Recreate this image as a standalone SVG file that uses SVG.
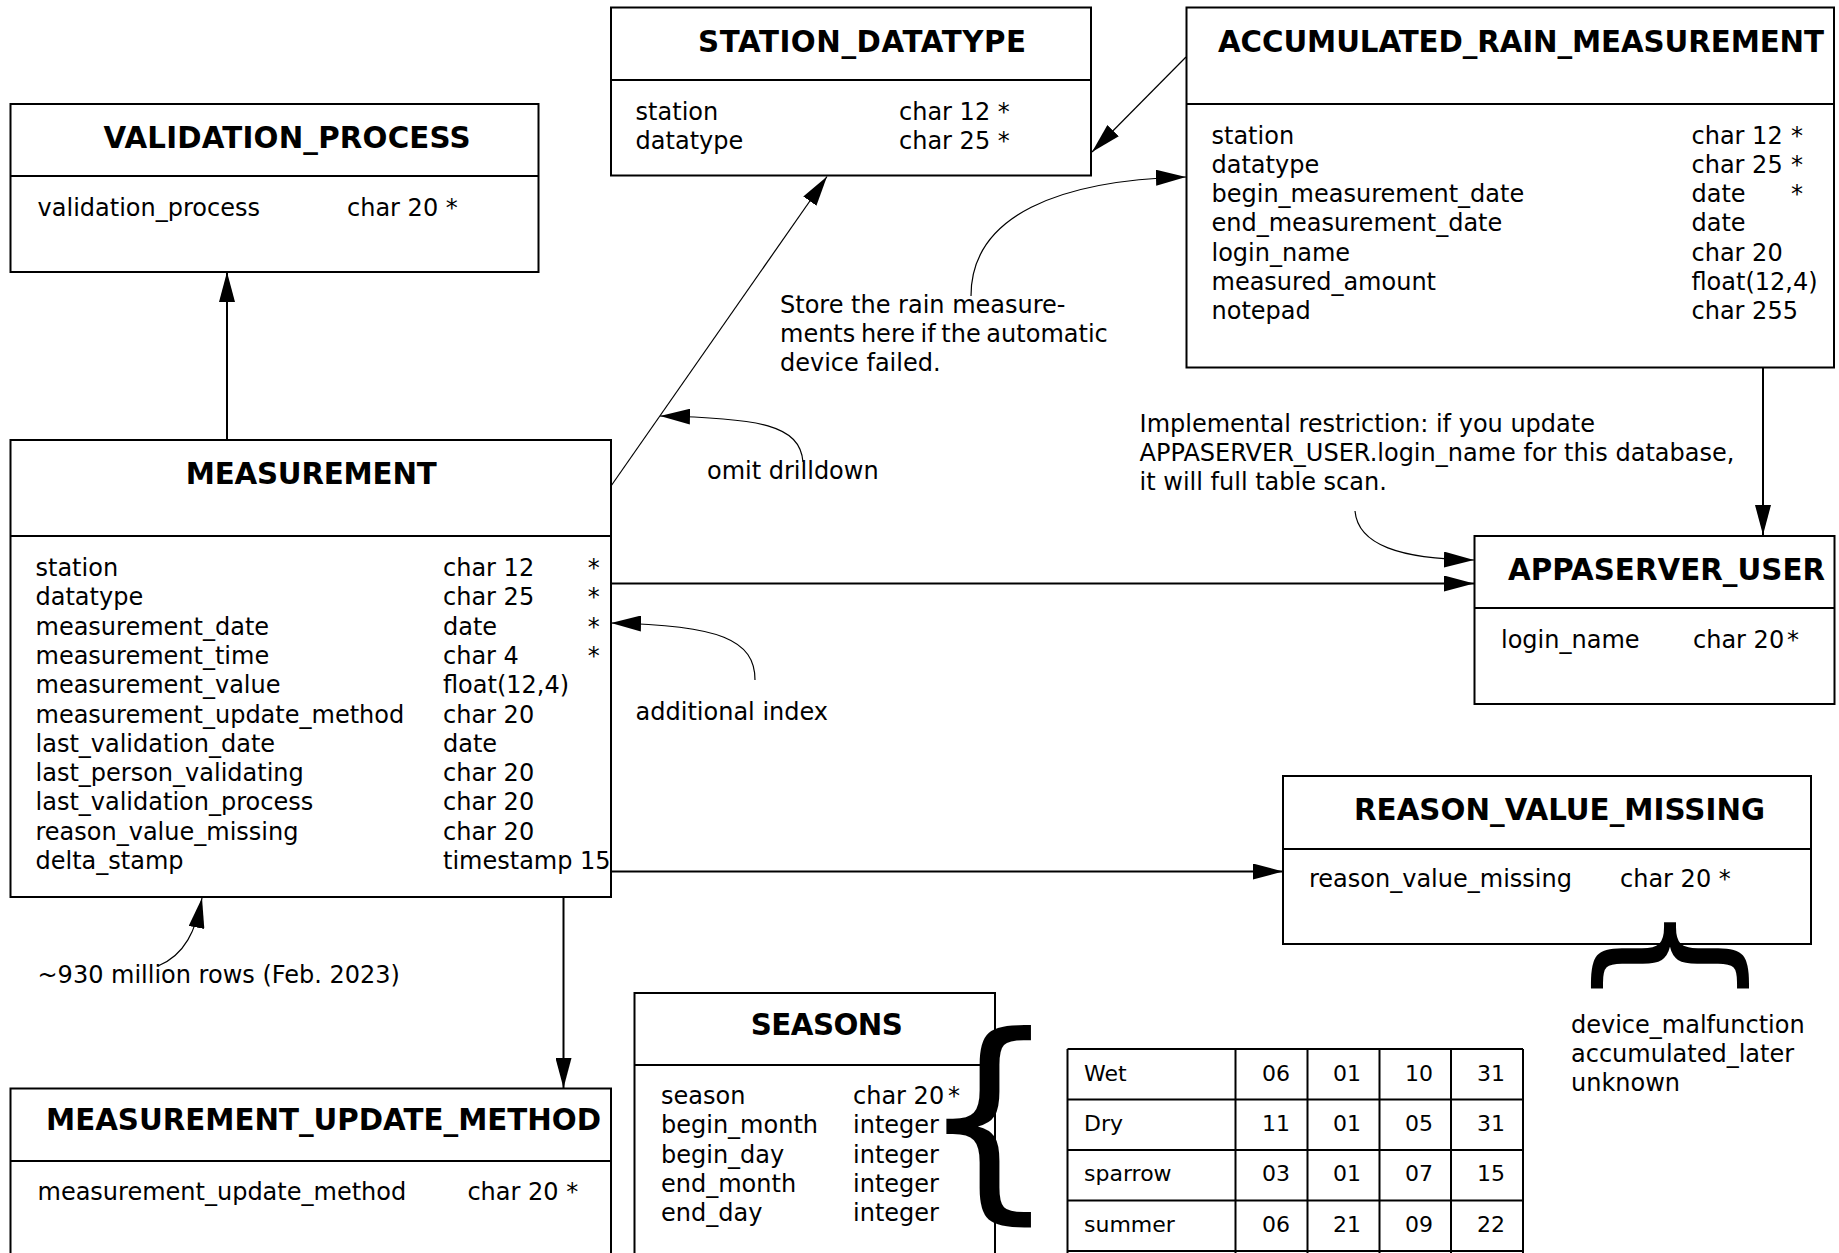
<svg xmlns="http://www.w3.org/2000/svg" width="1839" height="1253" viewBox="0 0 1839 1253">
<style>
text{font-family:"DejaVu Sans","Liberation Sans",sans-serif;fill:#000}
.h{font-size:29.3px;font-weight:bold}
.f{font-size:24px}
.c{font-size:24px}
.d{font-size:22px}
.box{fill:#fff;stroke:#000;stroke-width:2}
.div{stroke:#000;stroke-width:2}
.k{fill:none;stroke:#000;stroke-width:2}
.n{fill:none;stroke:#000;stroke-width:1.2}
.tb{fill:none;stroke:#000;stroke-width:2}
.br{font-weight:normal}
</style>
<defs>
<marker id="a" markerUnits="userSpaceOnUse" markerWidth="30" markerHeight="16" refX="30" refY="8" orient="auto" viewBox="0 0 30 16"><path d="M0,0 L30,8 L0,16 z" fill="#000"/></marker>
</defs>

<g id="connectors">
<path class="k" d="M227,440 L227,272" marker-end="url(#a)"/>
<path class="n" d="M611,486 L827,176.5" marker-end="url(#a)"/>
<path class="n" d="M1186,57 L1092,152" marker-end="url(#a)"/>
<path class="n" d="M971,296 C971,215 1060,180 1186,177" marker-end="url(#a)"/>
<path class="n" d="M803,462 C800,425 760,418 660,416" marker-end="url(#a)"/>
<path class="n" d="M755,680 C755,640 720,625 611,623" marker-end="url(#a)"/>
<path class="k" d="M611,583.5 L1474,583.5" marker-end="url(#a)"/>
<path class="n" d="M1355,511 C1358,545 1400,559 1474,560" marker-end="url(#a)"/>
<path class="k" d="M1763,368 L1763,535" marker-end="url(#a)"/>
<path class="k" d="M611,871.5 L1283,871.5" marker-end="url(#a)"/>
<path class="k" d="M563.5,897 L563.5,1088" marker-end="url(#a)"/>
<path class="n" d="M158,966 C185,955 196,930 202,898" marker-end="url(#a)"/>
</g>

<g id="validation_process">
<rect class="box" x="10.5" y="104" width="528" height="168"/>
<line class="div" x1="10.5" y1="176" x2="538.5" y2="176"/>
<text class="h" x="103.6" y="148" textLength="367" lengthAdjust="spacing">VALIDATION_PROCESS</text>
<text class="f" x="37.6" y="216">validation_process</text>
<text class="f" x="347" y="216">char 20 *</text>
</g>

<g id="station_datatype">
<rect class="box" x="611" y="7.5" width="480" height="168"/>
<line class="div" x1="611" y1="80" x2="1091" y2="80"/>
<text class="h" x="698" y="52" textLength="328" lengthAdjust="spacing">STATION_DATATYPE</text>
<text class="f" x="635.6" y="119.5">station</text>
<text class="f" x="635.6" y="149">datatype</text>
<text class="f" x="899" y="119.5">char 12 *</text>
<text class="f" x="899" y="149">char 25 *</text>
</g>

<g id="accumulated_rain_measurement">
<rect class="box" x="1186.5" y="7.5" width="647.5" height="360"/>
<line class="div" x1="1186.5" y1="104" x2="1834" y2="104"/>
<text class="h" x="1218" y="52" textLength="606" lengthAdjust="spacing">ACCUMULATED_RAIN_MEASUREMENT</text>
<text class="f" x="1211.5" y="143.5">station</text>
<text class="f" x="1211.5" y="172.8">datatype</text>
<text class="f" x="1211.5" y="202">begin_measurement_date</text>
<text class="f" x="1211.5" y="231.4">end_measurement_date</text>
<text class="f" x="1211.5" y="260.7">login_name</text>
<text class="f" x="1211.5" y="290">measured_amount</text>
<text class="f" x="1211.5" y="319.3">notepad</text>
<text class="f" x="1691.5" y="143.5">char 12</text>
<text class="f" x="1691.5" y="172.8">char 25</text>
<text class="f" x="1691.5" y="202">date</text>
<text class="f" x="1691.5" y="231.4">date</text>
<text class="f" x="1691.5" y="260.7">char 20</text>
<text class="f" x="1691.5" y="290">float(12,4)</text>
<text class="f" x="1691.5" y="319.3">char 255</text>
<text class="f" x="1791" y="143.5">*</text>
<text class="f" x="1791" y="172.8">*</text>
<text class="f" x="1791" y="202">*</text>
</g>

<g id="measurement">
<rect class="box" x="10.5" y="440" width="600.5" height="457"/>
<line class="div" x1="10.5" y1="536" x2="611" y2="536"/>
<text class="h" x="185.7" y="484" textLength="251" lengthAdjust="spacing">MEASUREMENT</text>
<text class="f" x="35.5" y="576">station</text>
<text class="f" x="35.5" y="605.3">datatype</text>
<text class="f" x="35.5" y="634.6">measurement_date</text>
<text class="f" x="35.5" y="664">measurement_time</text>
<text class="f" x="35.5" y="693.2">measurement_value</text>
<text class="f" x="35.5" y="722.5">measurement_update_method</text>
<text class="f" x="35.5" y="751.8">last_validation_date</text>
<text class="f" x="35.5" y="781.1">last_person_validating</text>
<text class="f" x="35.5" y="810.4">last_validation_process</text>
<text class="f" x="35.5" y="839.7">reason_value_missing</text>
<text class="f" x="35.5" y="869">delta_stamp</text>
<text class="f" x="443" y="576">char 12</text>
<text class="f" x="443" y="605.3">char 25</text>
<text class="f" x="443" y="634.6">date</text>
<text class="f" x="443" y="664">char 4</text>
<text class="f" x="443" y="693.2">float(12,4)</text>
<text class="f" x="443" y="722.5">char 20</text>
<text class="f" x="443" y="751.8">date</text>
<text class="f" x="443" y="781.1">char 20</text>
<text class="f" x="443" y="810.4">char 20</text>
<text class="f" x="443" y="839.7">char 20</text>
<text class="f" x="443" y="869">timestamp 15</text>
<text class="f" x="587.8" y="576">*</text>
<text class="f" x="587.8" y="605.3">*</text>
<text class="f" x="587.8" y="634.6">*</text>
<text class="f" x="587.8" y="664">*</text>
</g>

<g id="appaserver_user">
<rect class="box" x="1474.5" y="536" width="360" height="168"/>
<line class="div" x1="1474.5" y1="608" x2="1834.5" y2="608"/>
<text class="h" x="1508" y="580" textLength="317" lengthAdjust="spacing">APPASERVER_USER</text>
<text class="f" x="1501" y="647.7">login_name</text>
<text class="f" x="1693" y="647.7">char 20</text>
<text class="f" x="1787" y="647.7">*</text>
</g>

<g id="reason_value_missing">
<rect class="box" x="1283" y="776" width="528" height="168"/>
<line class="div" x1="1283" y1="849" x2="1811" y2="849"/>
<text class="h" x="1354" y="820" textLength="411" lengthAdjust="spacing">REASON_VALUE_MISSING</text>
<text class="f" x="1309" y="887">reason_value_missing</text>
<text class="f" x="1620" y="887">char 20 *</text>
</g>

<g id="measurement_update_method">
<rect class="box" x="10.5" y="1088.5" width="600.5" height="200"/>
<line class="div" x1="10.5" y1="1161" x2="611" y2="1161"/>
<text class="h" x="46" y="1130" textLength="555" lengthAdjust="spacing">MEASUREMENT_UPDATE_METHOD</text>
<text class="f" x="37.5" y="1200">measurement_update_method</text>
<text class="f" x="467.4" y="1200">char 20 *</text>
</g>

<g id="seasons">
<rect class="box" x="634.5" y="993" width="360.5" height="300"/>
<line class="div" x1="634.5" y1="1065" x2="995" y2="1065"/>
<text class="h" x="750.8" y="1035" textLength="152" lengthAdjust="spacing">SEASONS</text>
<text class="f" x="661" y="1104">season</text>
<text class="f" x="661" y="1133.3">begin_month</text>
<text class="f" x="661" y="1162.6">begin_day</text>
<text class="f" x="661" y="1192">end_month</text>
<text class="f" x="661" y="1221.3">end_day</text>
<text class="f" x="853" y="1104">char 20</text>
<text class="f" x="948" y="1104">*</text>
<text class="f" x="853" y="1133.3">integer</text>
<text class="f" x="853" y="1162.6">integer</text>
<text class="f" x="853" y="1192">integer</text>
<text class="f" x="853" y="1221.3">integer</text>
</g>

<g id="seasons_brace">
<text class="br" x="919" y="1192.4" font-size="219">{</text>
</g>

<g id="seasons_data">
<path class="tb" d="M1067.5,1049 H1523 M1067.5,1099.5 H1523 M1067.5,1150 H1523 M1067.5,1200.5 H1523 M1067.5,1251 H1523 M1067.5,1049 V1260 M1235.5,1049 V1260 M1307.5,1049 V1260 M1379.5,1049 V1260 M1451,1049 V1260 M1523,1049 V1260"/>
<text class="d" x="1084" y="1080.5">Wet</text>
<text class="d" x="1084" y="1130.5">Dry</text>
<text class="d" x="1084" y="1181">sparrow</text>
<text class="d" x="1084" y="1231.5">summer</text>
<g text-anchor="end">
<text class="d" x="1290" y="1080.5">06</text>
<text class="d" x="1361" y="1080.5">01</text>
<text class="d" x="1433" y="1080.5">10</text>
<text class="d" x="1505" y="1080.5">31</text>
<text class="d" x="1290" y="1130.5">11</text>
<text class="d" x="1361" y="1130.5">01</text>
<text class="d" x="1433" y="1130.5">05</text>
<text class="d" x="1505" y="1130.5">31</text>
<text class="d" x="1290" y="1181">03</text>
<text class="d" x="1361" y="1181">01</text>
<text class="d" x="1433" y="1181">07</text>
<text class="d" x="1505" y="1181">15</text>
<text class="d" x="1290" y="1231.5">06</text>
<text class="d" x="1361" y="1231.5">21</text>
<text class="d" x="1433" y="1231.5">09</text>
<text class="d" x="1505" y="1231.5">22</text>
</g>
</g>

<g id="reason_brace">
<text class="br" transform="translate(1618.7,900.7) rotate(90)" x="0" y="0" font-size="171.4">{</text>
</g>

<g id="reason_values">
<text class="c" x="1571" y="1032.5">device_malfunction</text>
<text class="c" x="1571" y="1061.5">accumulated_later</text>
<text class="c" x="1571" y="1090.5">unknown</text>
</g>

<g id="notes">
<text class="c" x="780" y="312.5">Store the rain measure-</text>
<text class="c" x="780" y="341.5" word-spacing="-2">ments here if the automatic</text>
<text class="c" x="780" y="370.5">device failed.</text>
<text class="c" x="707" y="479">omit drilldown</text>
<text class="c" x="635.6" y="720">additional index</text>
<text class="c" x="1139.6" y="431.5">Implemental restriction: if you update</text>
<text class="c" x="1139.6" y="461">APPASERVER_USER.login_name for this database,</text>
<text class="c" x="1139.6" y="490">it will full table scan.</text>
<text class="c" x="37.5" y="983">~930 million rows (Feb. 2023)</text>
</g>
</svg>
